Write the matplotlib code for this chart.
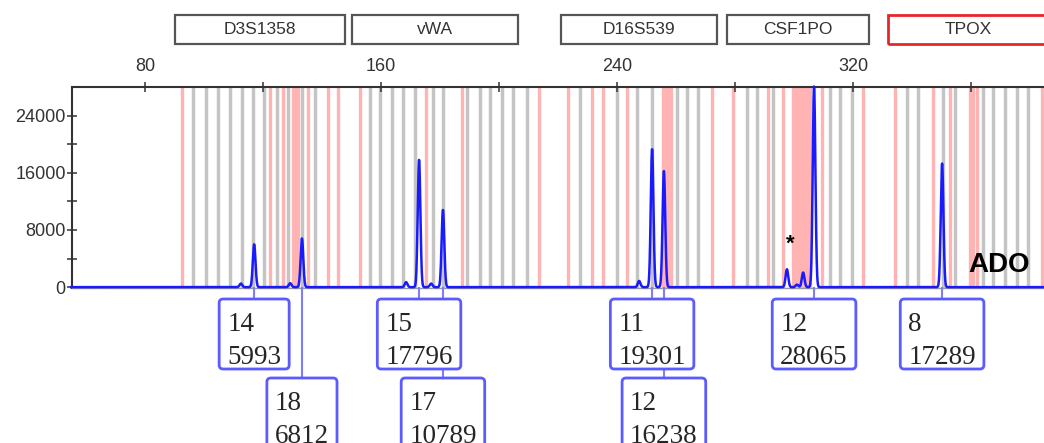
import numpy as np
import matplotlib
matplotlib.use('Agg')
import matplotlib.pyplot as plt
import matplotlib.transforms as mtransforms
from matplotlib.patches import Rectangle, FancyBboxPatch
from matplotlib.lines import Line2D

# ---------------- data ----------------
markers = ['D3S1358', 'vWA', 'D16S539', 'CSF1PO', 'TPOX']
marker_start = [90.2, 150.2, 221.0, 277.3, 331.9]
marker_end = [147.8, 206.4, 273.9, 325.4, 392.0]
marker_flag = [False, False, False, False, True]

grey_bins = [96.3, 100.7, 104.7, 108.8, 112.9, 116.6, 120.3, 124.7, 128.5, 133.2, 137.6,
             156.3, 159.7, 163.7, 167.5, 171.5, 177.6, 181.0, 189.2, 193.6, 196.9, 201.0,
             204.7, 209.5, 227.5, 240.0, 246.8, 251.9, 260.3, 263.7, 267.5,
             284.1, 287.5, 292.9, 312.2, 315.6, 319.7,
             338.3, 342.0, 350.5, 354.6, 364.1, 367.5, 371.5, 375.6, 379.3]
red_bins = [92.5, 122.4, 126.8, 130.2, 131.0, 131.9, 135.3, 142.0, 145.4, 152.9, 175.3, 187.5,
            213.6, 223.4, 231.5, 235.3, 243.4, 255.6, 256.6, 257.6, 258.2, 272.2, 279.3,
            291.2, 296.3, 299.7, 300.7, 301.7, 302.7, 303.7, 304.7, 305.4, 309.5, 323.4,
            334.2, 347.1, 352.9, 359.7, 360.8, 362.0, 384.1]

peak_bp = [112.5, 117.0, 129.2, 133.2, 168.5, 172.9, 177.0, 181.0,
           247.5, 251.9, 255.9, 297.6, 301.0, 303.1, 306.8, 350.2]
peak_rfu = [500, 5993, 550, 6812, 700, 17796, 500, 10789,
            870, 19301, 16238, 2500, 350, 2050, 28065, 17289]

call_bp = [117.0, 133.2, 172.9, 181.0, 251.9, 255.9, 306.8, 350.2]
call_allele = ['14', '18', '15', '17', '11', '12', '12', '8']
call_rfu = [5993, 6812, 17796, 10789, 19301, 16238, 28065, 17289]
call_row = [0, 1, 0, 1, 0, 1, 0, 0]

x_major = [80, 160, 240, 320]
x_minor = [120, 200, 280, 360]
y_major = [0, 8000, 16000, 24000]
y_minor = [4000, 12000, 20000]

# ---------------- figure ----------------
W, H = 1044, 443
DPI = 100
fig = plt.figure(figsize=(W / DPI, H / DPI), dpi=DPI)
ax_l, ax_t, ax_b = 72, 87, 288
ax = fig.add_axes([ax_l / W, (H - ax_b) / H, (W - ax_l) / W, (ax_b - ax_t) / H])
ax_h = ax_b - ax_t

ax.set_xlim(55.25, 384.75)
ax.set_ylim(-120, 28000)
ax.set_autoscale_on(False)

# bins
ax.vlines(grey_bins, 0, 1, transform=ax.get_xaxis_transform(), colors='#c4c4c4', lw=2.5, zorder=1)
ax.vlines(red_bins, 0, 1, transform=ax.get_xaxis_transform(), colors='#ffb3b3', lw=2.4, zorder=1)

# trace
xs = np.linspace(55, 386, 8000)
ys = np.zeros_like(xs)
sig = 0.45
for p, h in zip(peak_bp, peak_rfu):
    ys += h * np.exp(-0.5 * ((xs - p) / sig) ** 2)
ax.plot(xs, ys, color='#1a1aff', lw=1.8, zorder=3, clip_on=False)

# axes styling
ax.spines['right'].set_visible(False)
ax.spines['left'].set_color('#333333')
ax.spines['top'].set_color('#333333')
ax.spines['left'].set_linewidth(1.5)
ax.spines['top'].set_linewidth(1.5)
ax.spines['bottom'].set_color('#999999')
ax.spines['bottom'].set_linewidth(1.0)

ax.xaxis.tick_top()
ax.set_xticks(x_major)
ax.set_xticks(x_minor, minor=True)
ax.set_yticks(y_major)
ax.set_yticks(y_minor, minor=True)
ax.tick_params(axis='x', which='both', direction='inout', length=7, width=1.1,
               color='#333333', labelsize=13, pad=5, labelcolor='#333333')
ax.tick_params(axis='y', which='both', direction='inout', length=7, width=1.1,
               color='#333333', labelsize=13, pad=1, labelcolor='#333333')
for lab in ax.get_xticklabels() + ax.get_yticklabels():
    lab.set_family('Liberation Sans')

blend = mtransforms.blended_transform_factory(ax.transData, ax.transAxes)

# marker panels above
rect_bot = 1 + (ax_t - 44) / ax_h
rect_h = (44 - 15) / ax_h
for name, s, e, flag in zip(markers, marker_start, marker_end, marker_flag):
    r = Rectangle((s, rect_bot), e - s, rect_h, transform=blend, fill=False,
                  ec='#e8262a' if flag else '#555555', lw=2.0 if flag else 1.6, clip_on=False)
    ax.add_patch(r)
    cx = (s + e) / 2 if not flag else (s + 386) / 2
    ax.text(cx, rect_bot + rect_h / 2, name,
            transform=blend, ha='center', va='center', fontsize=12.5,
            family='Liberation Sans', color='#333333', clip_on=False)

# allele call boxes
row_box_top = [299, 378]
box_height = 70
fs = 19.5
pad_top, pad_x = 12.6, 8
texts = []
for bp, al, rfu, row in zip(call_bp, call_allele, call_rfu, call_row):
    top_ax = (ax_b - row_box_top[row]) / ax_h
    ax.add_line(Line2D([bp, bp], [0, top_ax], transform=blend, color='#7d7dff',
                       lw=1.5, clip_on=False, zorder=4))
    t = ax.text(bp, (ax_b - row_box_top[row] - pad_top) / ax_h, f"{al}\n{rfu}",
                transform=blend, ha='center', va='top', multialignment='left',
                fontsize=fs, family='Liberation Serif', color='#262626', linespacing=1.45,
                clip_on=False, zorder=6)
    texts.append((t, row))

fig.canvas.draw()
renderer = fig.canvas.get_renderer()
for t, row in texts:
    bb = t.get_window_extent(renderer)
    top_disp = H - row_box_top[row]
    patch = FancyBboxPatch((bb.x0 - pad_x, top_disp - box_height), bb.width + 2 * pad_x, box_height,
                           boxstyle='round,pad=0,rounding_size=4', fc='white', ec='#5b5bff',
                           lw=2.0, transform=mtransforms.IdentityTransform(),
                           clip_on=False, zorder=5)
    ax.add_artist(patch)

# annotations
ax.text(369.5, (ax_b - 265) / ax_h, 'ADO', transform=blend, ha='center', va='center',
        fontsize=20, fontweight='bold', family='Liberation Sans', color='black', zorder=7)
ax.text(298.6, (ax_b - 244) / ax_h, '*', transform=blend, ha='center', va='center',
        fontsize=16, fontweight='bold', family='Liberation Sans', color='black', zorder=7)

fig.savefig('out.png', dpi=DPI)
